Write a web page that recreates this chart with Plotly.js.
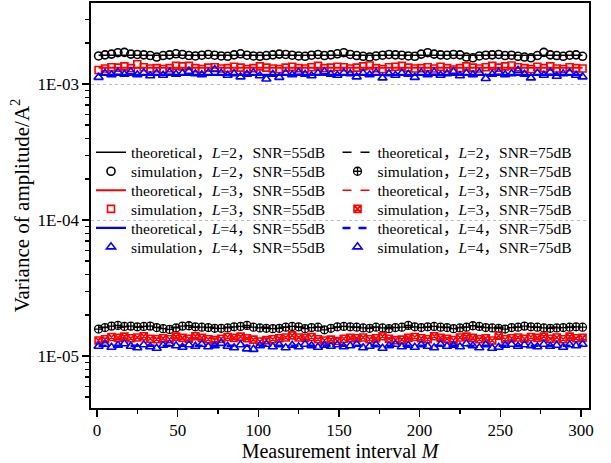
<!DOCTYPE html>
<html>
<head>
<meta charset="utf-8">
<script src="https://cdn.plot.ly/plotly-3.0.1.min.js"></script>
<style>html,body{margin:0;padding:0;background:#fff;}#chart{width:611px;height:463px;}</style>
</head>
<body>
<div id="chart"></div>
<script>
// Measurement interval M for simulation points
const M = [1,5,9,13,17,21,25,29,33,37,41,45,49,53,57,61,65,69,73,77,81,85,89,93,97,101,105,109,113,117,121,125,129,133,137,141,145,149,153,157,161,165,169,173,177,181,185,189,193,197,201,205,209,213,217,221,225,229,233,237,241,245,249,253,257,261,265,269,273,277,281,285,289,293,297,301];
// Theoretical lines (constant over M)
const thM = [1, 301];
const th55_L2 = [1.63e-3, 1.63e-3];
const th55_L3 = [1.32e-3, 1.32e-3];
const th55_L4 = [1.17e-3, 1.17e-3];
const th75_L2 = [1.63e-5, 1.63e-5];
const th75_L3 = [1.35e-5, 1.35e-5];
const th75_L4 = [1.19e-5, 1.19e-5];

// Simulation, SNR = 55 dB
const sim55_L2 = [1.61e-3,1.64e-3,1.66e-3,1.70e-3,1.71e-3,1.66e-3,1.65e-3,1.64e-3,1.62e-3,1.58e-3,
  1.62e-3,1.64e-3,1.67e-3,1.65e-3,1.62e-3,1.61e-3,1.63e-3,1.65e-3,1.63e-3,1.61e-3,
  1.60e-3,1.64e-3,1.67e-3,1.63e-3,1.61e-3,1.60e-3,1.62e-3,1.64e-3,1.66e-3,1.65e-3,
  1.63e-3,1.61e-3,1.60e-3,1.63e-3,1.65e-3,1.62e-3,1.64e-3,1.67e-3,1.70e-3,1.65e-3,
  1.62e-3,1.60e-3,1.58e-3,1.61e-3,1.63e-3,1.65e-3,1.64e-3,1.63e-3,1.61e-3,1.60e-3,
  1.66e-3,1.70e-3,1.66e-3,1.64e-3,1.63e-3,1.65e-3,1.64e-3,1.58e-3,1.56e-3,1.61e-3,
  1.63e-3,1.64e-3,1.65e-3,1.62e-3,1.63e-3,1.60e-3,1.58e-3,1.56e-3,1.62e-3,1.71e-3,
  1.64e-3,1.62e-3,1.60e-3,1.63e-3,1.64e-3,1.60e-3];
const sim55_L3 = [1.27e-3,1.30e-3,1.33e-3,1.32e-3,1.35e-3,1.31e-3,1.40e-3,1.33e-3,1.30e-3,1.31e-3,
  1.29e-3,1.31e-3,1.36e-3,1.35e-3,1.36e-3,1.31e-3,1.29e-3,1.32e-3,1.33e-3,1.30e-3,
  1.31e-3,1.34e-3,1.32e-3,1.29e-3,1.31e-3,1.35e-3,1.32e-3,1.30e-3,1.29e-3,1.32e-3,
  1.34e-3,1.31e-3,1.30e-3,1.33e-3,1.36e-3,1.31e-3,1.32e-3,1.34e-3,1.33e-3,1.30e-3,
  1.32e-3,1.35e-3,1.37e-3,1.31e-3,1.29e-3,1.33e-3,1.34e-3,1.36e-3,1.32e-3,1.30e-3,
  1.31e-3,1.33e-3,1.30e-3,1.34e-3,1.31e-3,1.28e-3,1.31e-3,1.35e-3,1.32e-3,1.30e-3,
  1.33e-3,1.36e-3,1.32e-3,1.35e-3,1.37e-3,1.33e-3,1.31e-3,1.29e-3,1.34e-3,1.31e-3,
  1.35e-3,1.30e-3,1.29e-3,1.33e-3,1.31e-3,1.30e-3];
const sim55_L4 = [1.12e-3,1.20e-3,1.17e-3,1.22e-3,1.18e-3,1.23e-3,1.17e-3,1.21e-3,1.15e-3,1.20e-3,
  1.16e-3,1.22e-3,1.18e-3,1.20e-3,1.24e-3,1.19e-3,1.17e-3,1.21e-3,1.28e-3,1.20e-3,
  1.16e-3,1.19e-3,1.13e-3,1.18e-3,1.21e-3,1.15e-3,1.09e-3,1.18e-3,1.12e-3,1.20e-3,
  1.17e-3,1.22e-3,1.18e-3,1.15e-3,1.20e-3,1.23e-3,1.18e-3,1.16e-3,1.21e-3,1.19e-3,
  1.13e-3,1.20e-3,1.17e-3,1.21e-3,1.11e-3,1.19e-3,1.16e-3,1.20e-3,1.18e-3,1.12e-3,
  1.21e-3,1.17e-3,1.22e-3,1.16e-3,1.19e-3,1.23e-3,1.15e-3,1.20e-3,1.17e-3,1.21e-3,
  1.10e-3,1.18e-3,1.22e-3,1.17e-3,1.19e-3,1.26e-3,1.18e-3,1.11e-3,1.20e-3,1.16e-3,
  1.22e-3,1.14e-3,1.19e-3,1.21e-3,1.16e-3,1.13e-3];

// Simulation, SNR = 75 dB
const sim75_L2 = [1.58e-5,1.62e-5,1.66e-5,1.68e-5,1.65e-5,1.66e-5,1.64e-5,1.65e-5,1.66e-5,1.62e-5,
  1.59e-5,1.57e-5,1.61e-5,1.66e-5,1.67e-5,1.64e-5,1.63e-5,1.62e-5,1.60e-5,1.60e-5,
  1.61e-5,1.64e-5,1.65e-5,1.68e-5,1.63e-5,1.61e-5,1.60e-5,1.59e-5,1.60e-5,1.63e-5,
  1.65e-5,1.64e-5,1.59e-5,1.62e-5,1.63e-5,1.56e-5,1.60e-5,1.64e-5,1.65e-5,1.64e-5,
  1.63e-5,1.61e-5,1.60e-5,1.63e-5,1.61e-5,1.59e-5,1.62e-5,1.63e-5,1.68e-5,1.64e-5,
  1.62e-5,1.64e-5,1.65e-5,1.63e-5,1.62e-5,1.59e-5,1.61e-5,1.63e-5,1.67e-5,1.65e-5,
  1.62e-5,1.61e-5,1.60e-5,1.58e-5,1.62e-5,1.63e-5,1.66e-5,1.64e-5,1.63e-5,1.61e-5,
  1.60e-5,1.61e-5,1.62e-5,1.63e-5,1.64e-5,1.63e-5];
const sim75_L3 = [1.30e-5,1.33e-5,1.38e-5,1.36e-5,1.39e-5,1.35e-5,1.37e-5,1.40e-5,1.34e-5,1.33e-5,
  1.35e-5,1.33e-5,1.39e-5,1.36e-5,1.34e-5,1.40e-5,1.36e-5,1.33e-5,1.31e-5,1.34e-5,
  1.38e-5,1.36e-5,1.39e-5,1.35e-5,1.32e-5,1.28e-5,1.31e-5,1.33e-5,1.35e-5,1.37e-5,
  1.42e-5,1.37e-5,1.36e-5,1.38e-5,1.33e-5,1.30e-5,1.32e-5,1.29e-5,1.34e-5,1.36e-5,
  1.35e-5,1.37e-5,1.33e-5,1.35e-5,1.40e-5,1.34e-5,1.31e-5,1.32e-5,1.36e-5,1.38e-5,
  1.35e-5,1.33e-5,1.40e-5,1.36e-5,1.34e-5,1.31e-5,1.37e-5,1.39e-5,1.36e-5,1.33e-5,
  1.35e-5,1.30e-5,1.41e-5,1.33e-5,1.35e-5,1.37e-5,1.34e-5,1.38e-5,1.36e-5,1.39e-5,
  1.34e-5,1.37e-5,1.33e-5,1.39e-5,1.35e-5,1.36e-5];
const sim75_L4 = [1.18e-5,1.22e-5,1.16e-5,1.20e-5,1.23e-5,1.18e-5,1.15e-5,1.21e-5,1.17e-5,1.14e-5,
  1.20e-5,1.23e-5,1.19e-5,1.16e-5,1.21e-5,1.18e-5,1.22e-5,1.17e-5,1.19e-5,1.24e-5,
  1.18e-5,1.15e-5,1.21e-5,1.13e-5,1.12e-5,1.19e-5,1.22e-5,1.17e-5,1.21e-5,1.15e-5,
  1.20e-5,1.17e-5,1.22e-5,1.19e-5,1.16e-5,1.20e-5,1.18e-5,1.21e-5,1.17e-5,1.19e-5,
  1.22e-5,1.15e-5,1.18e-5,1.21e-5,1.14e-5,1.19e-5,1.22e-5,1.17e-5,1.20e-5,1.16e-5,
  1.21e-5,1.18e-5,1.15e-5,1.22e-5,1.18e-5,1.20e-5,1.17e-5,1.23e-5,1.19e-5,1.15e-5,
  1.21e-5,1.14e-5,1.16e-5,1.20e-5,1.22e-5,1.18e-5,1.21e-5,1.19e-5,1.17e-5,1.22e-5,
  1.18e-5,1.20e-5,1.16e-5,1.21e-5,1.19e-5,1.22e-5];

// Axis ticks
const xTicks = [0, 50, 100, 150, 200, 250, 300];
const xMinorTicks = [25, 75, 125, 175, 225, 275];
const yTicks = [1e-5, 1e-4, 1e-3];
const yTickText = ['1E-05', '1E-04', '1E-03'];
const yMinorTicks = [5e-6,6e-6,7e-6,8e-6,9e-6,2e-5,3e-5,4e-5,5e-5,6e-5,7e-5,8e-5,9e-5,2e-4,3e-4,4e-4,5e-4,6e-4,7e-4,8e-4,9e-4,2e-3,3e-3];

const SERIF = 'Liberation Serif, Times New Roman, Noto Sans CJK SC, serif';
const lab = (kind, L, snr) => kind + '，<i>L</i>=' + L + '，SNR=' + snr + 'dB';

const traces = [
  {x: thM, y: th55_L2, mode: 'lines', name: lab('theoretical', 2, 55), line: {color: '#000', width: 1.5}, legend: 'legend'},
  {x: M, y: sim55_L2, mode: 'markers', name: lab('simulation', 2, 55), marker: {symbol: 'circle-open', color: '#000', size: 8, line: {width: 1.6}}, legend: 'legend2'},
  {x: thM, y: th55_L3, mode: 'lines', name: lab('theoretical', 3, 55), line: {color: '#ff0000', width: 2}, legend: 'legend3'},
  {x: M, y: sim55_L3, mode: 'markers', name: lab('simulation', 3, 55), marker: {symbol: 'square-open', color: '#ff0000', size: 7, line: {width: 1.6}}, legend: 'legend4'},
  {x: thM, y: th55_L4, mode: 'lines', name: lab('theoretical', 4, 55), line: {color: '#0000ff', width: 2.2}, legend: 'legend5'},
  {x: M, y: sim55_L4, mode: 'markers', name: lab('simulation', 4, 55), marker: {symbol: 'triangle-up-open', color: '#0000ff', size: 8, line: {width: 1.6}}, legend: 'legend6'},

  {x: thM, y: th75_L2, mode: 'lines', name: lab('theoretical', 2, 75), line: {color: '#000', width: 1.5, dash: 'dash'}, legend: 'legend7'},
  {x: M, y: sim75_L2, mode: 'markers', name: lab('simulation', 2, 75), marker: {symbol: 'circle-cross-open', color: '#000', size: 8, line: {width: 1.3}}, legend: 'legend8'},
  {x: thM, y: th75_L3, mode: 'lines', name: lab('theoretical', 3, 75), line: {color: '#ff0000', width: 1.5, dash: 'dash'}, legend: 'legend9'},
  {x: M, y: sim75_L3, mode: 'markers', name: lab('simulation', 3, 75), marker: {symbol: 'square-x-open', color: '#ff0000', size: 7, line: {width: 1.6}}, legend: 'legend10'},
  {x: thM, y: th75_L4, mode: 'lines', name: lab('theoretical', 4, 75), line: {color: '#0000ff', width: 2.5, dash: '8px,8px'}, legend: 'legend11'},
  {x: M, y: sim75_L4, mode: 'markers', name: lab('simulation', 4, 75), marker: {symbol: 'triangle-up-open', color: '#0000ff', size: 8, line: {width: 1.6}}, legend: 'legend12'}
];

// one legend per row so the row spacing matches the reference
const rowY = [0.6304, 0.5835, 0.5365, 0.4906, 0.4437, 0.3968];
const colX = [0.0, 0.495];
const legendBase = {
  bgcolor: 'rgba(0,0,0,0)', borderwidth: 0,
  font: {family: SERIF, size: 15.5, color: '#000'},
  xanchor: 'left', yanchor: 'middle', traceorder: 'normal',
  tracegroupgap: 0, itemwidth: 30
};

const layout = {
  width: 611, height: 463,
  margin: {l: 91, r: 22, t: 3, b: 55},
  paper_bgcolor: '#fff', plot_bgcolor: '#fff',
  font: {family: SERIF, color: '#000'},
  showlegend: true,
  xaxis: {
    range: [-3.7, 305],
    tickmode: 'array', tickvals: xTicks,
    ticks: 'outside', ticklen: 7, tickwidth: 1.3, tickcolor: '#000',
    minor: {tickmode: 'array', tickvals: xMinorTicks, ticks: 'outside', ticklen: 4, tickwidth: 1.3, tickcolor: '#000', showgrid: false},
    showline: true, linecolor: '#000', linewidth: 1.6, mirror: true,
    showgrid: false, zeroline: false,
    ticklabelstandoff: -1,
    tickfont: {family: SERIF, size: 17, color: '#000'},
    title: {text: 'Measurement interval <i>M</i>', font: {family: SERIF, size: 20, color: '#000'}, standoff: 0}
  },
  yaxis: {
    type: 'log', range: [-5.382, -2.404],
    tickmode: 'array', tickvals: yTicks, ticktext: yTickText,
    ticks: 'outside', ticklen: 7, tickwidth: 1.3, tickcolor: '#000',
    minor: {tickmode: 'array', tickvals: yMinorTicks, ticks: 'outside', ticklen: 4, tickwidth: 1.3, tickcolor: '#000', showgrid: false},
    showline: true, linecolor: '#000', linewidth: 1.6, mirror: true,
    showgrid: true, gridcolor: '#bdbdbd', griddash: 'dot', gridwidth: 1,
    zeroline: false,
    tickfont: {family: SERIF, size: 17, color: '#000'},
    title: {text: 'Variance of amplitude/A<sup>2</sup>', font: {family: SERIF, size: 21, color: '#000'}, standoff: 2}
  }
};
for (let c = 0; c < 2; c++) {
  for (let r = 0; r < 6; r++) {
    const idx = c * 6 + r + 1;
    const key = idx === 1 ? 'legend' : 'legend' + idx;
    layout[key] = Object.assign({}, legendBase, {x: colX[c], y: rowY[r]});
  }
}

Plotly.newPlot('chart', traces, layout, {displayModeBar: false, staticPlot: true});
</script>
</body>
</html>
